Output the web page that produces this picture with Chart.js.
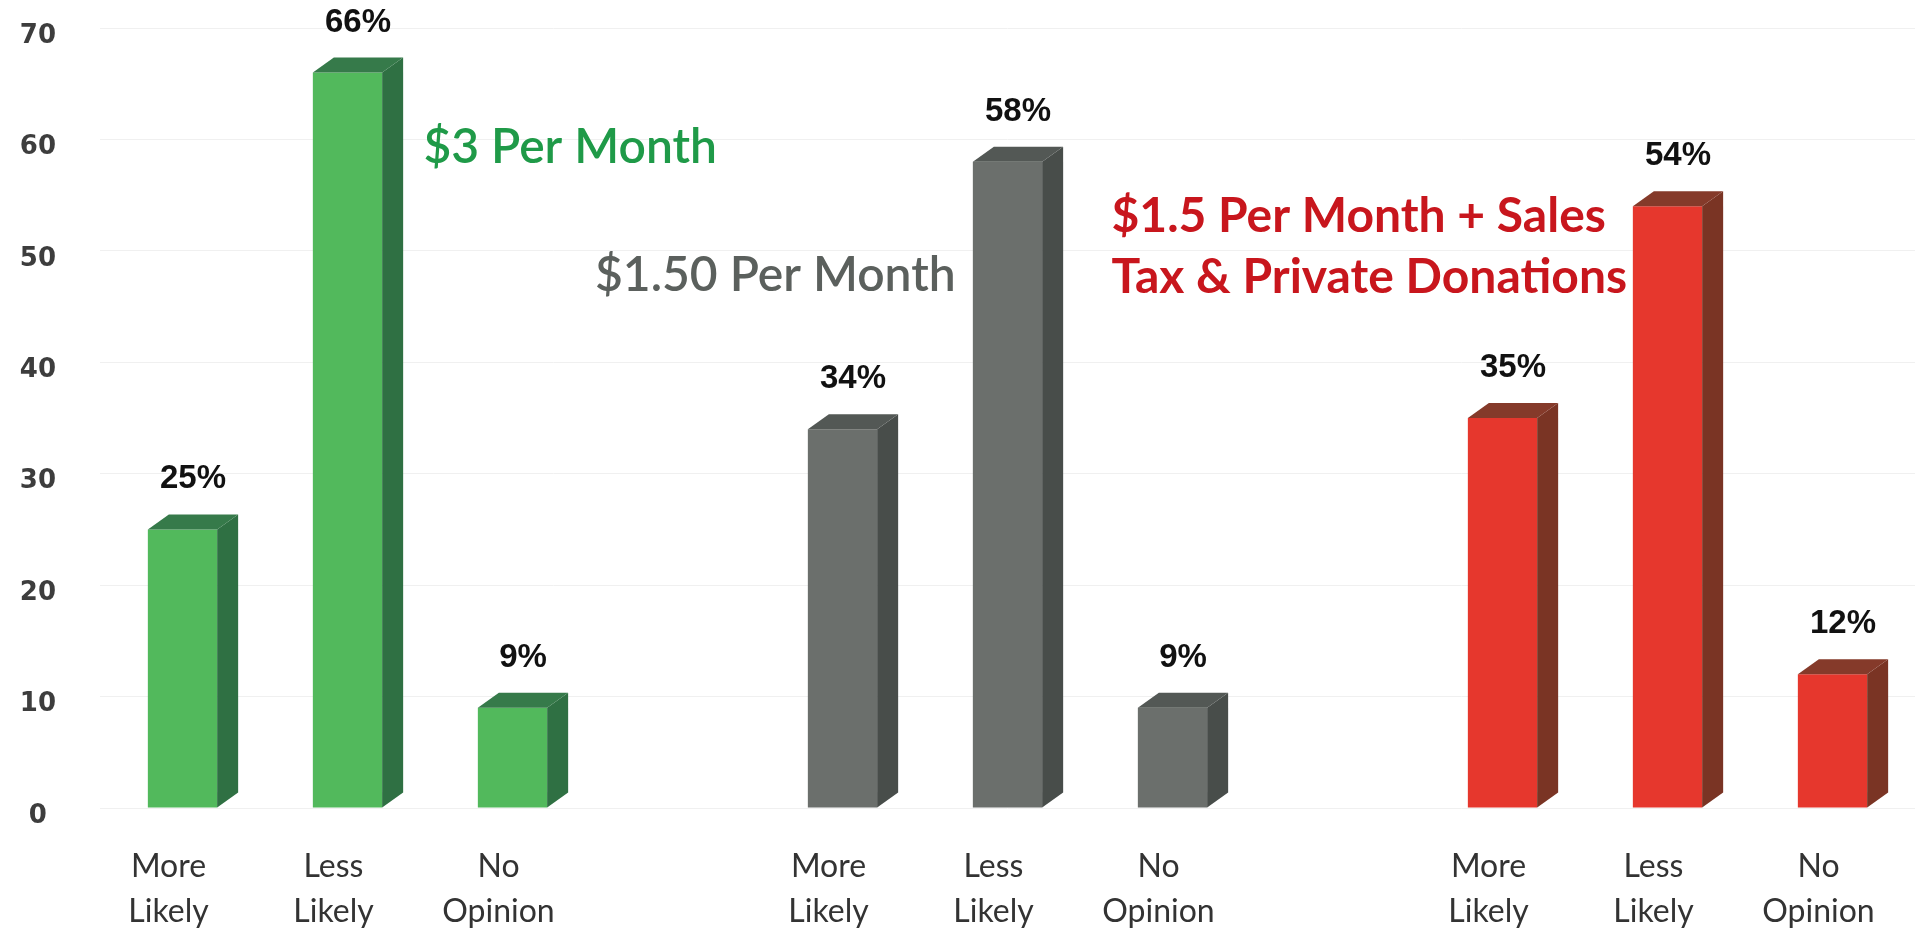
<!DOCTYPE html>
<html>
<head>
<meta charset="utf-8">
<script src="https://cdn.jsdelivr.net/npm/chart.js@4.4.0/dist/chart.umd.min.js"></script>
<style>
  html, body { margin: 0; padding: 0; background: #fff; overflow: hidden; }
</style>
</head>
<body>
<canvas id="chart" width="1915" height="944"></canvas>
<script>
// data (empty slots separate the three groups)
const categories = [
    ['More', 'Likely'], ['Less', 'Likely'], ['No', 'Opinion'], '',
    ['More', 'Likely'], ['Less', 'Likely'], ['No', 'Opinion'], '',
    ['More', 'Likely'], ['Less', 'Likely'], ['No', 'Opinion']
];
const values = [25, 66, 9, null, 34, 58, 9, null, 35, 54, 12];
const yTicks = [0, 10, 20, 30, 40, 50, 60, 70];
const groupTitles = [
    ['$3 Per Month'],
    ['$1.50 Per Month'],
    ['$1.5 Per Month + Sales', 'Tax & Private Donations']
];

// styles
const frontColors = ['#52b95c', '#6b6f6c', '#e6372d'];
const sideColors = ['#2f7043', '#484d4a', '#7a3424'];
const topColors = ['#367a4a', '#535855', '#853a2a'];
const titleColors = ['#1f9a48', '#5b605d', '#c8161d'];
const titleWeights = ['600', '600', 'bold'];
// where each group title sits: category position + value on the y scale
const titlePlaces = [
    { at: 1.46, value: 59.3 },
    { at: 2.5, value: 47.8 },
    { at: 5.63, value: 53.1 }
];
const DX = 21, DY = 15;

const groupOf = i => Math.floor(i / 4);

const bar3d = {
    id: 'bar3d',
    afterDatasetsDraw(chart) {
        const ctx = chart.ctx;
        const meta = chart.getDatasetMeta(0);
        meta.data.forEach((bar, i) => {
            if (values[i] == null) return;
            const { x, y, base, width } = bar.getProps(['x', 'y', 'base', 'width'], true);
            const l = x - width / 2, r = x + width / 2;
            const g = groupOf(i);
            ctx.save();
            ctx.fillStyle = sideColors[g];
            ctx.beginPath();
            ctx.moveTo(r, y);
            ctx.lineTo(r + DX, y - DY);
            ctx.lineTo(r + DX, base - DY);
            ctx.lineTo(r, base);
            ctx.closePath();
            ctx.fill();

            ctx.fillStyle = topColors[g];
            ctx.beginPath();
            ctx.moveTo(l, y);
            ctx.lineTo(l + DX, y - DY);
            ctx.lineTo(r + DX, y - DY);
            ctx.lineTo(r, y);
            ctx.closePath();
            ctx.fill();

            ctx.fillStyle = '#111';
            ctx.font = 'bold 33px "Liberation Sans", Arial, sans-serif';
            ctx.textAlign = 'center';
            ctx.textBaseline = 'alphabetic';
            ctx.fillText(values[i] + '%', x + DX / 2, y - DY - 26);
            ctx.restore();
        });

        // group titles
        const xs = chart.scales.x, ys = chart.scales.y;
        const step = xs.getPixelForValue(1) - xs.getPixelForValue(0);
        groupTitles.forEach((lines, g) => {
            const p = titlePlaces[g];
            const px = xs.getPixelForValue(0) + p.at * step;
            const py = ys.getPixelForValue(p.value);
            ctx.save();
            ctx.fillStyle = titleColors[g];
            ctx.font = titleWeights[g] + ' 48px Lato, "Open Sans", sans-serif';
            ctx.textAlign = 'left';
            ctx.textBaseline = 'middle';
            lines.forEach((t, k) => ctx.fillText(t, px, py + k * 61));
            ctx.restore();
        });
    }
};

new Chart(document.getElementById('chart'), {
    type: 'bar',
    data: {
        labels: categories,
        datasets: [{
            data: values,
            backgroundColor: values.map((v, i) => frontColors[groupOf(i)]),
            borderWidth: 0,
            categoryPercentage: 1,
            barPercentage: 0.42
        }]
    },
    options: {
        responsive: false,
        animation: false,
        layout: { padding: { top: 28, right: 0, left: 0, bottom: 0 } },
        plugins: { legend: { display: false }, tooltip: { enabled: false } },
        scales: {
            x: {
                grid: { display: false },
                border: { display: false },
                ticks: {
                    color: '#333',
                    font: { family: 'Lato', size: 32, lineHeight: 1.4 },
                    padding: 28,
                    labelOffset: -14,
                    maxRotation: 0,
                    autoSkip: false
                },
                afterFit: s => { s.height = 136; s.paddingLeft = 0; s.paddingRight = 0; }
            },
            y: {
                min: 0,
                max: 70,
                afterBuildTicks: s => { s.ticks = yTicks.map(v => ({ value: v })); },
                grid: { color: '#f0f0f0', drawTicks: false },
                border: { display: false },
                ticks: {
                    color: '#3d3d3d',
                    padding: 44,
                    labelOffset: 8,
                    crossAlign: 'center',
                    font: { family: 'DejaVu Sans', size: 26, weight: 'bold' }
                },
                afterFit: s => { s.width = 100; s.paddingTop = 0; s.paddingBottom = 0; }
            }
        }
    },
    plugins: [bar3d]
});
</script>
</body>
</html>
